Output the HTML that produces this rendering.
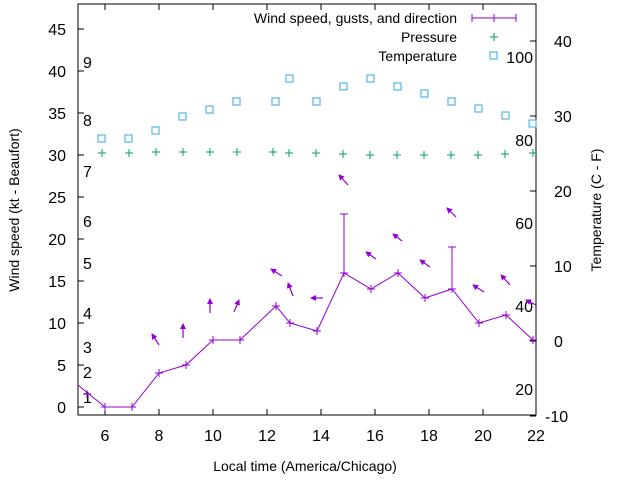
<!DOCTYPE html>
<html><head><meta charset="utf-8"><style>body{margin:0;background:#fff}svg{display:block}text{font-family:"Liberation Sans",sans-serif;fill:#000}</style></head><body>
<svg width="640" height="480" viewBox="0 0 640 480" xmlns="http://www.w3.org/2000/svg">
<defs><marker id="ah" markerWidth="6" markerHeight="6" refX="5" refY="3" orient="auto" markerUnits="userSpaceOnUse"><path d="M0,0 L6,3 L0,6 z" fill="#9400d3"/></marker></defs>
<rect x="78" y="4" width="458" height="411" fill="none" stroke="#000" stroke-width="1"/>
<g stroke="#000" stroke-width="1">
<path d="M78,407h6M78,365h6M78,323h6M78,281h6M78,239h6M78,197h6M78,155h6M78,113h6M78,71h6M78,29h6"/>
<path d="M105,415v-6M159,415v-6M213,415v-6M267,415v-6M321,415v-6M375,415v-6M429,415v-6M483,415v-6M105,4v6M159,4v6M213,4v6M267,4v6M321,4v6M375,4v6M429,4v6M483,4v6"/>
<path d="M536,416h-6M536,341h-6M536,266h-6M536,191h-6M536,116h-6M536,41h-6"/>
</g>
<g font-size="16" text-anchor="end">
<text x="66" y="413">0</text><text x="66" y="371">5</text><text x="66" y="329">10</text><text x="66" y="287">15</text><text x="66" y="245">20</text><text x="66" y="203">25</text><text x="66" y="161">30</text><text x="66" y="119">35</text><text x="66" y="77">40</text><text x="66" y="35">45</text>
</g>
<g font-size="16" text-anchor="middle">
<text x="105" y="441">6</text><text x="159" y="441">8</text><text x="213" y="441">10</text><text x="267" y="441">12</text><text x="321" y="441">14</text><text x="375" y="441">16</text><text x="429" y="441">18</text><text x="483" y="441">20</text><text x="536" y="441">22</text>
</g>
<g font-size="16" text-anchor="start">
<text x="545" y="422">-10</text><text x="554" y="347">0</text><text x="554" y="272">10</text><text x="554" y="197">20</text><text x="554" y="122">30</text><text x="554" y="47">40</text>
</g>
<text x="305" y="471" font-size="14" text-anchor="middle">Local time (America/Chicago)</text>
<text transform="translate(19,210) rotate(-90)" font-size="14" text-anchor="middle">Wind speed (kt - Beaufort)</text>
<text transform="translate(601,210) rotate(-90)" font-size="14" text-anchor="middle">Temperature (C - F)</text>
<g font-size="16">
<text x="83" y="403">1</text><text x="83" y="378">2</text><text x="83" y="353">3</text><text x="83" y="319">4</text><text x="83" y="269">5</text><text x="83" y="227">6</text><text x="83" y="177">7</text><text x="83" y="126">8</text><text x="83" y="68">9</text>
</g>
<g font-size="16" text-anchor="end">
<text x="533" y="63">100</text><text x="533" y="146">80</text><text x="533" y="229">60</text><text x="533" y="312">40</text><text x="533" y="395">20</text>
</g>
<g font-size="14" text-anchor="end">
<text x="457" y="23">Wind speed, gusts, and direction</text><text x="457" y="42">Pressure</text><text x="457" y="61">Temperature</text>
</g>
<g stroke="#9400d3" stroke-width="1" fill="none">
<path d="M472,18h44M472,14v8M516,14v8M494,14v8"/>
<polyline points="78,385 105,407 132,407 159,373 186,365 213,340 240,340 276,306 290,323 317,331 344,273 371,289 398,273 425,298 452,289 479,323 506,315 533,340 536,340"/>
<path d="M344,273v-59M340,214h8M452,289v-42M448,247h8"/>
<g stroke-width="1.2" marker-end="url(#ah)">
<path d="M159,345L152,334"/><path d="M183,338L183,324"/><path d="M210,313L210,299"/><path d="M234,312L239,300"/><path d="M282,276L271,269"/><path d="M293,296L288,283"/><path d="M323,298L311,298"/><path d="M348,185L339,175"/><path d="M376,259L366,252"/><path d="M402,241L393,234"/><path d="M430,267L420,260"/><path d="M456,217L447,208"/><path d="M484,292L473,285"/><path d="M510,285L501,275"/><path d="M536,305L526,300"/>
</g>
</g>
<g stroke="#9400d3" stroke-width="1">
<path d="M101,407h8M105,403v8M128,407h8M132,403v8M155,373h8M159,369v8M182,365h8M186,361v8M209,340h8M213,336v8M236,340h8M240,336v8M272,306h8M276,302v8M286,323h8M290,319v8M313,331h8M317,327v8M340,273h8M344,269v8M367,289h8M371,285v8M394,273h8M398,269v8M421,298h8M425,294v8M448,289h8M452,285v8M475,323h8M479,319v8M502,315h8M506,311v8M529,340h8M533,336v8M83,394h8M87,390v8"/>
</g>
<g stroke="#009e73" stroke-width="1">
<path d="M490,37h8M494,33v8"/>
<path d="M98,153h8M102,149v8M125,153h8M129,149v8M152,152h8M156,148v8M179,152h8M183,148v8M206,152h8M210,148v8M233,152h8M237,148v8M269,152h8M273,148v8M285,153h8M289,149v8M312,153h8M316,149v8M339,154h8M343,150v8M366,155h8M370,151v8M393,155h8M397,151v8M420,155h8M424,151v8M447,155h8M451,151v8M474,155h8M478,151v8M501,154h8M505,150v8M529,153h8M533,149v8"/>
</g>
<g stroke="#56b4e9" stroke-width="1.2" fill="none">
<rect x="490" y="52" width="7" height="7"/>
<rect x="98" y="135" width="7" height="7"/><rect x="125" y="135" width="7" height="7"/><rect x="152" y="127" width="7" height="7"/><rect x="179" y="113" width="7" height="7"/><rect x="206" y="106" width="7" height="7"/><rect x="233" y="98" width="7" height="7"/><rect x="272" y="98" width="7" height="7"/><rect x="286" y="75" width="7" height="7"/><rect x="313" y="98" width="7" height="7"/><rect x="340" y="83" width="7" height="7"/><rect x="367" y="75" width="7" height="7"/><rect x="394" y="83" width="7" height="7"/><rect x="421" y="90" width="7" height="7"/><rect x="448" y="98" width="7" height="7"/><rect x="475" y="105" width="7" height="7"/><rect x="502" y="112" width="7" height="7"/><rect x="529" y="120" width="7" height="7"/>
</g>
</svg>
</body></html>
